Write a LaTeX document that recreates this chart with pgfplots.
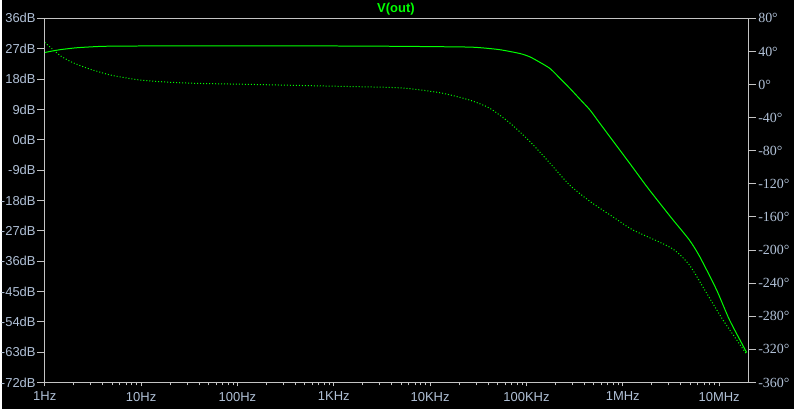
\documentclass[border=0pt]{standalone}
\usepackage{fontspec}
\setmainfont{Liberation Sans}
\newfontfamily\seriffont{Liberation Serif}
\usepackage{pgfplots}
\pgfplotsset{compat=1.18}

\definecolor{bgblack}{RGB}{0,0,0}
\definecolor{axisgray}{RGB}{196,196,196}
\definecolor{labelcol}{RGB}{176,192,214}
\definecolor{tracegreen}{RGB}{0,255,0}

\pgfplotsset{
    ltspice/.style={
        scale only axis,
        width=705pt, height=365pt,
        xmin=1, xmax=2e7,
        axis line style={axisgray, line width=1pt},
        tick style={axisgray, line width=1pt},
        tick align=outside,
        ticklabel style={text=labelcol, font=\fontsize{13}{13}\selectfont},
        clip=true,
    }
}

\begin{document}
\begin{tikzpicture}
    \fill[bgblack] (-43pt,-27pt) rectangle (751pt,383pt);

    % frame and frequency axis
    \begin{semilogxaxis}[
        ltspice,
        ymin=0, ymax=1,
        ytick=\empty,
        xtick={1,10,100,1e3,1e4,1e5,1e6,1e7},
        xticklabels={1Hz,10Hz,100Hz,1KHz,10KHz,100KHz,1MHz,10MHz},
        minor xtick={2,3,4,5,6,7,8,9,
            20,30,40,50,60,70,80,90,
            200,300,400,500,600,700,800,900,
            2e3,3e3,4e3,5e3,6e3,7e3,8e3,9e3,
            2e4,3e4,4e4,5e4,6e4,7e4,8e4,9e4,
            2e5,3e5,4e5,5e5,6e5,7e5,8e5,9e5,
            2e6,3e6,4e6,5e6,6e6,7e6,8e6,9e6},
        xtick pos=bottom,
        major tick length=4pt,
        minor tick length=3pt,
        xticklabel style={yshift=-2pt},
    ]
    \end{semilogxaxis}

    % magnitude, left axis
    \begin{semilogxaxis}[
        ltspice,
        hide x axis,
        axis y line*=left,
        ymin=-72, ymax=36,
        ytick={-72,-63,-54,-45,-36,-27,-18,-9,0,9,18,27,36},
        yticklabels={-72dB,-63dB,-54dB,-45dB,-36dB,-27dB,-18dB,-9dB,0dB,9dB,18dB,27dB,36dB},
        major tick length=8pt,
        yticklabel style={inner sep=1pt},
    ]
    % magnitude (dB)
    \addplot[tracegreen, line width=1pt, smooth, tension=0.4] coordinates {
        (1,25.85) (1.14,26.2) (1.44,26.7) (1.75,27.0) (2.2,27.3) (4,27.7)
        (10,27.8) (100,27.8) (1e3,27.8) (4.9e3,27.7) (2.3e4,27.5) (3.3e4,27.3)
        (5.3e4,26.7) (8.6e4,25.55) (1.09e5,24.55) (1.39e5,22.9) (1.76e5,21.1)
        (2.23e5,18.2) (2.83e5,15.2) (3.6e5,12.0) (4.57e5,8.8) (5.8e5,4.8)
        (1.18e6,-7.0) (1.82e6,-14.3) (3.2e6,-23.2) (4.9e6,-29.7) (6.3e6,-34.7)
        (9.4e6,-44.5) (1.28e7,-53.4) (1.93e7,-63.1)
    };
    \end{semilogxaxis}

    % phase, right axis
    \begin{semilogxaxis}[
        ltspice,
        hide x axis,
        axis y line*=right,
        ymin=-360, ymax=80,
        ytick={-360,-320,-280,-240,-200,-160,-120,-80,-40,0,40,80},
        yticklabels={-360°,-320°,-280°,-240°,-200°,-160°,-120°,-80°,-40°,0°,40°,80°},
        major tick length=8pt,
        yticklabel style={font=\seriffont\fontsize{14}{14}\selectfont, inner sep=2pt},
    ]
    % phase (degrees)
    \addplot[tracegreen, line width=1pt, dash pattern=on 1pt off 2pt, smooth, tension=0.4] coordinates {
        (1,51) (1.43,35.4) (1.89,27.3) (2.81,19.4) (4.9,11.3) (10,5.3)
        (22,2.5) (41.9,1.3) (100,0.5) (1020,-2) (4.9e3,-4) (1.28e4,-10)
        (2.6e4,-18.9) (4.2e4,-28.9) (6.8e4,-46.9) (1.09e5,-69) (1.76e5,-95.2)
        (2.8e5,-121.3) (4.6e5,-141.5) (8.3e5,-161.5) (1.27e6,-175.6)
        (3.2e6,-197.6) (4.9e6,-217.8) (7.4e6,-251.9) (1.09e7,-284)
        (1.51e7,-308) (1.93e7,-326)
    };
    \end{semilogxaxis}

    \node[text=tracegreen, font=\bfseries\fontsize{13}{13}\selectfont] at (352pt,374pt) {V(out)};
\end{tikzpicture}
\end{document}
